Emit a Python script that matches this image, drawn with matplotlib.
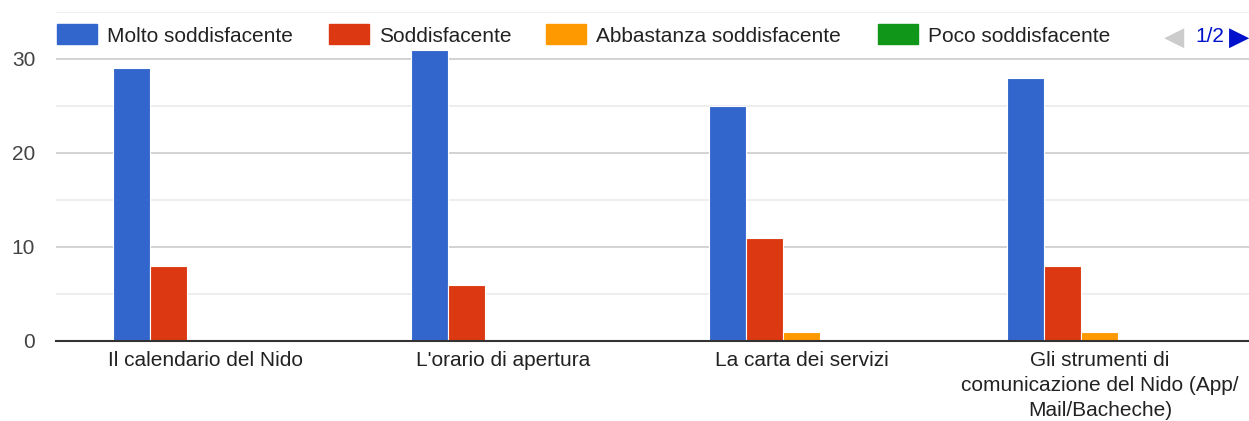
import matplotlib
matplotlib.use("Agg")
import matplotlib.pyplot as plt
import numpy as np
from matplotlib.patches import Rectangle
from matplotlib.ticker import MultipleLocator

plt.rcParams['font.family'] = ['Liberation Sans', 'DejaVu Sans']

categories = ["Il calendario del Nido", "L'orario di apertura", "La carta dei servizi",
              "Gli strumenti di\ncomunicazione del Nido (App/\nMail/Bacheche)"]
series_names = ["Molto soddisfacente", "Soddisfacente", "Abbastanza soddisfacente",
                "Poco soddisfacente", "Per nulla soddisfacente"]
molto = [29, 31, 25, 28]
soddisfacente = [8, 6, 11, 8]
abbastanza = [0, 0, 1, 1]
poco = [0, 0, 0, 0]
per_nulla = [0, 0, 0, 0]
series_values = [molto, soddisfacente, abbastanza, poco, per_nulla]
colors = ["#3366cc", "#dc3912", "#ff9900", "#109618", "#990099"]
yticks = [0, 10, 20, 30]

W, H = 1249, 421
fig = plt.figure(figsize=(W / 100, H / 100), dpi=100)
ax = fig.add_axes([56 / W, 1 - 341 / H, (1249 - 56) / W, (341 - 12) / H])

n = len(series_names)
x = np.arange(len(categories))
group_w = 0.62
bw = group_w / n
for i, (vals, c) in enumerate(zip(series_values, colors)):
    ax.bar(x - group_w / 2 + bw * (i + 0.5), vals, width=bw, color=c,
           edgecolor='white', linewidth=0.8, zorder=3)

ax.set_xlim(-0.5, len(categories) - 0.5)
ax.set_ylim(0, 35)
ax.set_yticks(yticks)
ax.yaxis.set_minor_locator(MultipleLocator(5))
ax.grid(axis='y', which='major', color='#cccccc', linewidth=1.2, zorder=0)
ax.grid(axis='y', which='minor', color='#ebebeb', linewidth=1.2, zorder=0)
for s in ['top', 'right', 'left']:
    ax.spines[s].set_visible(False)
ax.spines['bottom'].set_color('#333333')
ax.spines['bottom'].set_linewidth(1.5)
ax.spines['bottom'].set_zorder(4)
ax.tick_params(axis='both', which='both', length=0)
ax.tick_params(axis='y', labelsize=15, labelcolor='#444444', pad=23 - 8)
ax.set_xticks(x)
ax.set_xticklabels(categories, fontsize=15, color='#222222', linespacing=1.42)
ax.tick_params(axis='x', pad=7)

# legend (page 1/2 shows first four series)
leg_x = [57, 329, 546, 878]
for xp, name, c in zip(leg_x, series_names[:4], colors[:4]):
    fig.patches.append(Rectangle((xp / W, 1 - 44 / H), 40 / W, 20 / H,
                                 transform=fig.transFigure, color=c))
    fig.text((xp + 50) / W, 1 - 35 / H, name, fontsize=15, color='#222222',
             va='center_baseline', ha='left')
fig.text(1164 / W, 1 - 35 / H, "◀", fontsize=19, color='#cccccc', va='center_baseline',
         ha='left', family=['DejaVu Sans'])
fig.text(1195 / W, 1 - 35 / H, "1/2", fontsize=15, color='#0011cc', va='center_baseline',
         ha='left')
fig.text(1229 / W, 1 - 35 / H, "▶", fontsize=19, color='#0011cc', va='center_baseline',
         ha='left', family=['DejaVu Sans'])

fig.savefig("out.png", dpi=100)
